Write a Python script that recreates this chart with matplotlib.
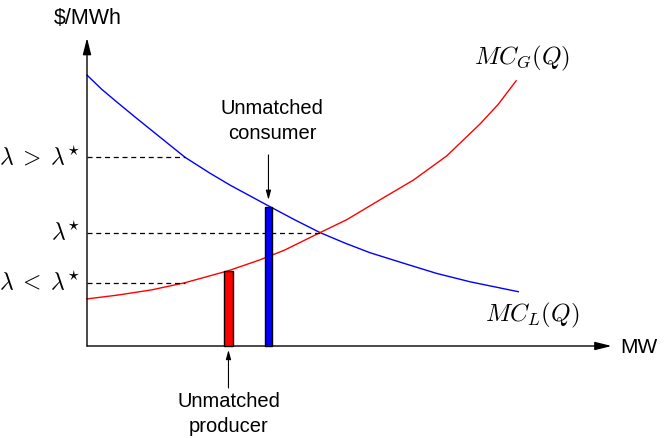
import numpy as np
import matplotlib
matplotlib.use('Agg')
import matplotlib.pyplot as plt

plt.rcParams['font.family'] = ['Liberation Sans', 'DejaVu Sans']
plt.rcParams['mathtext.fontset'] = 'cm'

# curves (x in MW units, y in $/MWh units)
mc_load_x = [0.00, 0.34, 0.73, 1.12, 1.50, 1.89, 2.28, 2.86, 3.33, 4.26,
             4.84, 5.42, 6.00, 6.58, 7.36, 8.13, 8.91, 10.03]
mc_load_y = [9.03, 8.56, 8.09, 7.63, 7.19, 6.74, 6.29, 5.76, 5.36, 4.64,
             4.20, 3.78, 3.43, 3.11, 2.76, 2.42, 2.14, 1.81]
mc_gen_x = [0.00, 0.73, 1.50, 2.28, 3.29, 4.02, 4.60, 5.42, 6.04, 6.81,
            7.59, 8.36, 9.14, 9.56, 9.98]
mc_gen_y = [1.57, 1.70, 1.87, 2.11, 2.51, 2.87, 3.20, 3.78, 4.21, 4.87,
            5.53, 6.33, 7.40, 8.05, 8.84]

# unmatched bids
bar_x = [3.29, 4.22]
bar_h = [2.51, 4.64]
bar_w = [0.21, 0.17]
bar_colors = ['red', 'blue']

# price levels: (label, price, quantity where the dashed line stops)
price_labels = [r'$\lambda \;>\; \lambda^{\star}$', r'$\lambda^{\star}$',
                r'$\lambda \;<\; \lambda^{\star}$']
price_y = [6.29, 3.78, 2.11]
price_q = [2.28, 5.42, 2.28]

x_max, y_max = 12.2, 10.27

fig = plt.figure(figsize=(6.64, 4.38), dpi=100)
ax = fig.add_axes([0, 0, 1, 1])
ax.set_xlim(-87 / 43, 577 / 43)
ax.set_ylim(-92 / 30, 346 / 30)
ax.axis('off')

# axes drawn as arrows
arrow = dict(arrowstyle='-|>,head_length=1.0,head_width=0.25', color='black', lw=1.0,
             shrinkA=0, shrinkB=0)
ax.annotate('', xy=(x_max, 0), xytext=(0, 0), arrowprops=arrow)
ax.annotate('', xy=(0, y_max), xytext=(0, 0), arrowprops=arrow)
ax.text(0.02, 10.93, '$/MWh', fontsize=15.5, ha='center', va='center')
ax.text(12.4, -0.05, 'MW', fontsize=15, ha='left', va='center')

ax.plot(mc_load_x, mc_load_y, color='blue', lw=1.0, solid_joinstyle='round')
ax.plot(mc_gen_x, mc_gen_y, color='red', lw=1.0, solid_joinstyle='round')
ax.text(10.12, 9.6, r'$MC_G(Q)$', fontsize=18, ha='center', va='center')
ax.text(10.35, 1.03, r'$MC_L(Q)$', fontsize=18, ha='center', va='center')

for lbl, y, q in zip(price_labels, price_y, price_q):
    ax.plot([0, q], [y, y], color='black', lw=0.9, ls=(0, (4, 3)))
    ax.text(-0.16, y, lbl, fontsize=17, ha='right', va='center')

ax.bar(bar_x, bar_h, width=bar_w, color=bar_colors, edgecolor='black', lw=1.0, zorder=3)

small_arrow = dict(arrowstyle='-|>,head_length=0.55,head_width=0.15', color='black', lw=0.8,
                   shrinkA=0, shrinkB=0)
ax.annotate('', xy=(4.22, 4.87), xytext=(4.22, 6.37), arrowprops=small_arrow)
ax.text(4.3, 7.5, 'Unmatched\nconsumer', fontsize=14.5, ha='center', va='center', linespacing=1.35)
ax.annotate('', xy=(3.29, -0.13), xytext=(3.29, -1.4), arrowprops=small_arrow)
ax.text(3.3, -2.27, 'Unmatched\nproducer', fontsize=14.5, ha='center', va='center', linespacing=1.35)

fig.savefig('out.png', dpi=100)
